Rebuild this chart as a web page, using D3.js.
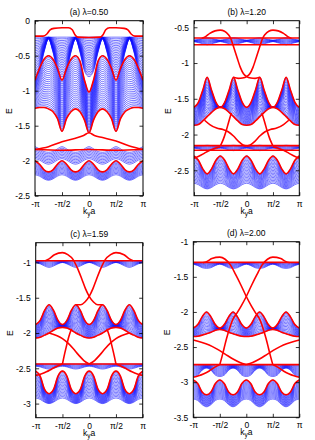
<!DOCTYPE html>
<html>
<head>
<meta charset="utf-8">
<script src="https://cdn.jsdelivr.net/npm/d3@7"></script>
<style>
  body { margin: 0; background: #fff; }
  text { font-family: "Liberation Sans", Arial, sans-serif; }
</style>
</head>
<body>
<div id="chart"></div>
<script>
// k in units of pi
var kGrid = [-1, -0.9167, -0.8333, -0.75, -0.6667, -0.5833, -0.5, -0.4167, -0.3333, -0.25, -0.1667, -0.0833,
  0, 0.0833, 0.1667, 0.25, 0.3333, 0.4167, 0.5, 0.5833, 0.6667, 0.75, 0.8333, 0.9167, 1];
var kTicks = [-1, -0.5, 0, 0.5, 1];
var kTickLabels = ["-\u03c0", "-\u03c0/2", "0", "\u03c0/2", "\u03c0"];

// ---- (a) lambda = 0.50 ----
var aB1Top = [-0.235,-0.235,-0.235,-0.235,-0.235,-0.235,-0.235,-0.235,-0.235,-0.235,-0.235,-0.235,-0.235,-0.235,-0.235,-0.235,-0.235,-0.235,-0.235,-0.235,-0.235,-0.235,-0.235,-0.235,-0.235];
var aB1Bot = [-0.80,-0.72,-0.45,-0.26,-0.45,-0.72,-0.80,-0.72,-0.45,-0.26,-0.45,-0.72,-0.80,-0.72,-0.45,-0.26,-0.45,-0.72,-0.80,-0.72,-0.45,-0.26,-0.45,-0.72,-0.80];
var aB2Top = [-0.85,-0.68,-0.55,-0.50,-0.55,-0.68,-0.85,-0.68,-0.55,-0.50,-0.58,-0.85,-1.02,-0.85,-0.58,-0.50,-0.55,-0.68,-0.85,-0.68,-0.55,-0.50,-0.55,-0.68,-0.85];
var aB2Bot = [-1.25,-1.24,-1.24,-1.26,-1.30,-1.40,-1.58,-1.40,-1.30,-1.26,-1.30,-1.42,-1.60,-1.42,-1.30,-1.26,-1.30,-1.40,-1.58,-1.40,-1.30,-1.26,-1.24,-1.24,-1.25];
var aB3Top = [-1.80,-1.83,-1.87,-1.88,-1.87,-1.83,-1.80,-1.83,-1.87,-1.88,-1.87,-1.83,-1.80,-1.83,-1.87,-1.88,-1.87,-1.83,-1.80,-1.83,-1.87,-1.88,-1.87,-1.83,-1.80];
var aB3Bot = [-1.97,-1.99,-2.03,-2.05,-2.03,-1.99,-1.97,-1.99,-2.03,-2.05,-2.03,-1.99,-1.97,-1.99,-2.03,-2.05,-2.03,-1.99,-1.97,-1.99,-2.03,-2.05,-2.03,-1.99,-1.97];
var aB4Top = [-2.00,-2.05,-2.13,-2.16,-2.13,-2.05,-2.00,-2.05,-2.13,-2.16,-2.13,-2.05,-2.00,-2.05,-2.13,-2.16,-2.13,-2.05,-2.00,-2.05,-2.13,-2.16,-2.13,-2.05,-2.00];
var aB4Bot = [-2.20,-2.22,-2.26,-2.28,-2.26,-2.22,-2.20,-2.22,-2.26,-2.28,-2.26,-2.22,-2.20,-2.22,-2.26,-2.28,-2.26,-2.22,-2.20,-2.22,-2.26,-2.28,-2.26,-2.22,-2.20];
var aEdgeTop = [[-1,-0.22],[-0.85,-0.22],[-0.78,-0.19],[-0.72,-0.13],[-0.65,-0.11],[-0.5,-0.1],[-0.38,-0.1],[-0.31,-0.13],[-0.26,-0.2],[-0.21,-0.235],[0,-0.24],
  [0.21,-0.235],[0.26,-0.2],[0.31,-0.13],[0.38,-0.1],[0.5,-0.1],[0.65,-0.11],[0.72,-0.13],[0.78,-0.19],[0.85,-0.22],[1,-0.22]];
var aEdgeHump = [[-1,-1.84],[-0.75,-1.8],[-0.5,-1.73],[-0.25,-1.68],[-0.1,-1.64],[0,-1.6],[0.1,-1.64],[0.25,-1.67],[0.5,-1.72],[0.75,-1.79],[1,-1.84]];
var aEdgeLow = [[-1,-1.84],[-0.5,-1.85],[0,-1.84],[0.5,-1.85],[1,-1.84]];

// ---- (b) lambda = 1.20 ----
var bB1Top = [-0.68,-0.67,-0.655,-0.645,-0.655,-0.67,-0.68,-0.67,-0.655,-0.645,-0.655,-0.67,-0.68,-0.67,-0.655,-0.645,-0.655,-0.67,-0.68,-0.67,-0.655,-0.645,-0.655,-0.67,-0.68];
var bB1Bot = [-0.70,-0.715,-0.73,-0.745,-0.73,-0.715,-0.70,-0.715,-0.73,-0.745,-0.73,-0.715,-0.70,-0.715,-0.73,-0.745,-0.73,-0.715,-0.70,-0.715,-0.73,-0.745,-0.73,-0.715,-0.70];
var bB2Top = [-1.62,-1.55,-1.38,-1.20,-1.38,-1.55,-1.62,-1.55,-1.38,-1.20,-1.38,-1.55,-1.62,-1.55,-1.38,-1.20,-1.38,-1.55,-1.62,-1.55,-1.38,-1.20,-1.38,-1.55,-1.62];
var bB2Bot = [-1.87,-1.86,-1.81,-1.75,-1.69,-1.64,-1.62,-1.64,-1.69,-1.75,-1.81,-1.86,-1.87,-1.86,-1.81,-1.75,-1.69,-1.64,-1.62,-1.64,-1.69,-1.75,-1.81,-1.86,-1.87];
var bB3Top = [-2.17,-2.165,-2.155,-2.15,-2.155,-2.165,-2.17,-2.165,-2.155,-2.15,-2.155,-2.165,-2.17,-2.165,-2.155,-2.15,-2.155,-2.165,-2.17,-2.165,-2.155,-2.15,-2.155,-2.165,-2.17];
var bB3Bot = [-2.19,-2.20,-2.215,-2.225,-2.215,-2.20,-2.19,-2.20,-2.215,-2.225,-2.215,-2.20,-2.19,-2.20,-2.215,-2.225,-2.215,-2.20,-2.19,-2.20,-2.215,-2.225,-2.215,-2.20,-2.19];
var bB4Top = [-2.30,-2.36,-2.48,-2.55,-2.48,-2.36,-2.30,-2.36,-2.48,-2.55,-2.48,-2.36,-2.30,-2.36,-2.48,-2.55,-2.48,-2.36,-2.30,-2.36,-2.48,-2.55,-2.48,-2.36,-2.30];
var bB4Bot = [-2.68,-2.70,-2.74,-2.76,-2.74,-2.70,-2.68,-2.70,-2.74,-2.76,-2.74,-2.70,-2.68,-2.70,-2.74,-2.76,-2.74,-2.70,-2.68,-2.70,-2.74,-2.76,-2.74,-2.70,-2.68];
var bEdgeFlat1 = [[-1,-0.65],[1,-0.65]];
var bEdgeFlat2 = [[-1,-0.745],[1,-0.745]];
var bEdgeFlat3 = [[-1,-2.155],[1,-2.155]];
var bEdgeFlat4 = [[-1,-2.22],[1,-2.22]];
var bArchL = [[-0.85,-0.655],[-0.78,-0.63],[-0.7,-0.585],[-0.6,-0.55],[-0.5,-0.54],[-0.42,-0.555],[-0.35,-0.6],[-0.3,-0.66],[-0.25,-0.77],[-0.18,-0.93],[-0.12,-1.06],[-0.06,-1.15],[0,-1.19],[0.08,-1.21],[0.16,-1.215],[0.25,-1.2]];
var bArchR = [[-0.25,-1.2],[-0.16,-1.215],[-0.08,-1.21],[0,-1.19],[0.06,-1.15],[0.12,-1.06],[0.18,-0.93],[0.25,-0.77],[0.3,-0.66],[0.35,-0.6],[0.42,-0.555],[0.5,-0.54],[0.6,-0.55],[0.7,-0.585],[0.78,-0.63],[0.85,-0.655]];
var bGapL = [[-0.8,-1.8],[-0.7,-1.86],[-0.57,-1.91],[-0.45,-1.93],[-0.35,-1.96],[-0.25,-2.02],[-0.15,-2.1],[-0.07,-2.145],[0,-2.16]];
var bGapR = [[0,-2.16],[0.07,-2.145],[0.15,-2.1],[0.25,-2.02],[0.35,-1.96],[0.45,-1.93],[0.57,-1.91],[0.7,-1.86],[0.8,-1.8]];
var bSteepL = [[-0.5,-2.16],[-0.44,-2.06],[-0.39,-1.95],[-0.34,-1.82],[-0.29,-1.7]];
var bSteepR = [[0.29,-1.7],[0.34,-1.82],[0.39,-1.95],[0.44,-2.06],[0.5,-2.16]];
var bLowL = [[-1,-2.33],[-0.9,-2.3],[-0.8,-2.26],[-0.7,-2.22],[-0.6,-2.19],[-0.5,-2.17]];
var bLowR = [[0.5,-2.17],[0.6,-2.19],[0.7,-2.22],[0.8,-2.26],[0.9,-2.3],[1,-2.33]];

// ---- (c) lambda = 1.59 ----
var cB1Top = [-0.985,-0.98,-0.975,-0.975,-0.975,-0.98,-0.985,-0.98,-0.975,-0.975,-0.975,-0.98,-0.985,-0.98,-0.975,-0.975,-0.975,-0.98,-0.985,-0.98,-0.975,-0.975,-0.975,-0.98,-0.985];
var cB1Bot = [-1.00,-1.02,-1.05,-1.07,-1.05,-1.02,-1.00,-1.02,-1.05,-1.07,-1.05,-1.02,-1.00,-1.02,-1.05,-1.07,-1.05,-1.02,-1.00,-1.02,-1.05,-1.07,-1.05,-1.02,-1.00];
var cB2Top = [-1.88,-1.82,-1.68,-1.60,-1.68,-1.82,-1.88,-1.82,-1.68,-1.60,-1.68,-1.82,-1.88,-1.82,-1.68,-1.60,-1.68,-1.82,-1.88,-1.82,-1.68,-1.60,-1.68,-1.82,-1.88];
var cB2Bot = [-2.07,-2.06,-2.03,-2.00,-1.96,-1.93,-1.92,-1.93,-1.96,-2.00,-2.03,-2.06,-2.07,-2.06,-2.03,-2.00,-1.96,-1.93,-1.92,-1.93,-1.96,-2.00,-2.03,-2.06,-2.07];
var cB3Top = [-2.44,-2.44,-2.44,-2.44,-2.44,-2.44,-2.44,-2.44,-2.44,-2.44,-2.44,-2.44,-2.44,-2.44,-2.44,-2.44,-2.44,-2.44,-2.44,-2.44,-2.44,-2.44,-2.44,-2.44,-2.44];
var cB3Bot = [-2.47,-2.48,-2.50,-2.51,-2.50,-2.48,-2.47,-2.48,-2.50,-2.51,-2.50,-2.48,-2.47,-2.48,-2.50,-2.51,-2.50,-2.48,-2.47,-2.48,-2.50,-2.51,-2.50,-2.48,-2.47];
var cB4Top = [-2.54,-2.61,-2.80,-2.86,-2.80,-2.61,-2.54,-2.61,-2.80,-2.86,-2.80,-2.61,-2.54,-2.61,-2.80,-2.86,-2.80,-2.61,-2.54,-2.61,-2.80,-2.86,-2.80,-2.61,-2.54];
var cB4Bot = [-2.92,-2.94,-2.98,-3.00,-2.98,-2.94,-2.92,-2.94,-2.98,-3.00,-2.98,-2.94,-2.92,-2.94,-2.98,-3.00,-2.98,-2.94,-2.92,-2.94,-2.98,-3.00,-2.98,-2.94,-2.92];
var cEdgeFlat1 = [[-1,-0.975],[1,-0.975]];
var cEdgeFlat2 = [[-1,-2.44],[1,-2.44]];
var cArchL = [[-0.82,-0.975],[-0.75,-0.95],[-0.65,-0.89],[-0.5,-0.86],[-0.4,-0.89],[-0.3,-0.96],[-0.22,-1.08],[-0.14,-1.23],[-0.07,-1.37],[0,-1.48],[0.08,-1.56],[0.16,-1.6],[0.25,-1.6]];
var cArchR = [[-0.25,-1.6],[-0.16,-1.6],[-0.08,-1.56],[0,-1.48],[0.07,-1.37],[0.14,-1.23],[0.22,-1.08],[0.3,-0.96],[0.4,-0.89],[0.5,-0.86],[0.65,-0.89],[0.75,-0.95],[0.82,-0.975]];
var cGapL = [[-0.75,-2.0],[-0.6,-2.04],[-0.5,-2.08],[-0.4,-2.14],[-0.3,-2.22],[-0.2,-2.31],[-0.1,-2.39],[0,-2.44]];
var cGapR = [[0,-2.44],[0.1,-2.39],[0.2,-2.31],[0.3,-2.22],[0.4,-2.14],[0.5,-2.08],[0.6,-2.04],[0.75,-2.0]];
var cSteepL = [[-0.5,-2.44],[-0.47,-2.33],[-0.43,-2.2],[-0.38,-2.05],[-0.33,-1.94]];
var cSteepR = [[0.33,-1.94],[0.38,-2.05],[0.43,-2.2],[0.47,-2.33],[0.5,-2.44]];
var cLowL = [[-1,-2.6],[-0.9,-2.58],[-0.8,-2.55],[-0.7,-2.51],[-0.6,-2.47],[-0.5,-2.44]];
var cLowR = [[0.5,-2.44],[0.6,-2.47],[0.7,-2.51],[0.8,-2.55],[0.9,-2.58],[1,-2.6]];

// ---- (d) lambda = 2.00 ----
var dB1Top = [-1.30,-1.30,-1.30,-1.30,-1.30,-1.30,-1.30,-1.30,-1.30,-1.30,-1.30,-1.30,-1.30,-1.30,-1.30,-1.30,-1.30,-1.30,-1.30,-1.30,-1.30,-1.30,-1.30,-1.30,-1.30];
var dB1Bot = [-1.32,-1.34,-1.37,-1.38,-1.37,-1.34,-1.32,-1.34,-1.37,-1.38,-1.37,-1.34,-1.32,-1.34,-1.37,-1.38,-1.37,-1.34,-1.32,-1.34,-1.37,-1.38,-1.37,-1.34,-1.32];
var dB2Top = [-2.23,-2.18,-2.07,-2.00,-2.07,-2.18,-2.23,-2.18,-2.07,-2.00,-2.07,-2.18,-2.23,-2.18,-2.07,-2.00,-2.07,-2.18,-2.23,-2.18,-2.07,-2.00,-2.07,-2.18,-2.23];
var dB2Bot = [-2.35,-2.345,-2.33,-2.31,-2.29,-2.26,-2.25,-2.26,-2.29,-2.31,-2.33,-2.345,-2.35,-2.345,-2.33,-2.31,-2.29,-2.26,-2.25,-2.26,-2.29,-2.31,-2.33,-2.345,-2.35];
var dB3Top = [-2.75,-2.75,-2.75,-2.75,-2.75,-2.75,-2.75,-2.75,-2.75,-2.75,-2.75,-2.75,-2.75,-2.75,-2.75,-2.75,-2.75,-2.75,-2.75,-2.75,-2.75,-2.75,-2.75,-2.75,-2.75];
var dB3Bot = [-2.92,-2.90,-2.83,-2.80,-2.83,-2.90,-2.92,-2.90,-2.83,-2.80,-2.83,-2.90,-2.92,-2.90,-2.83,-2.80,-2.83,-2.90,-2.92,-2.90,-2.83,-2.80,-2.83,-2.90,-2.92];
var dB4Top = [-2.97,-3.02,-3.14,-3.18,-3.14,-3.02,-2.97,-3.02,-3.14,-3.18,-3.14,-3.02,-2.97,-3.02,-3.14,-3.18,-3.14,-3.02,-2.97,-3.02,-3.14,-3.18,-3.14,-3.02,-2.97];
var dB4Bot = [-3.24,-3.26,-3.32,-3.35,-3.32,-3.26,-3.24,-3.26,-3.32,-3.35,-3.32,-3.26,-3.24,-3.26,-3.32,-3.35,-3.32,-3.26,-3.24,-3.26,-3.32,-3.35,-3.32,-3.26,-3.24];
var dEdgeFlat1 = [[-1,-1.295],[1,-1.295]];
var dEdgeFlat2 = [[-1,-2.75],[1,-2.75]];
var dArchL = [[-0.82,-1.3],[-0.74,-1.28],[-0.65,-1.24],[-0.5,-1.22],[-0.4,-1.25],[-0.3,-1.33],[-0.2,-1.47],[-0.1,-1.62],[0,-1.78],[0.1,-1.92],[0.18,-2.02],[0.25,-2.1],[0.31,-2.22],[0.37,-2.37],[0.42,-2.52],[0.46,-2.64],[0.5,-2.75]];
var dArchR = [[-0.5,-2.75],[-0.46,-2.64],[-0.42,-2.52],[-0.37,-2.37],[-0.31,-2.22],[-0.25,-2.1],[-0.18,-2.02],[-0.1,-1.92],[0,-1.78],[0.1,-1.62],[0.2,-1.47],[0.3,-1.33],[0.4,-1.25],[0.5,-1.22],[0.65,-1.24],[0.74,-1.28],[0.82,-1.3]];
var dGapL = [[-1,-2.4],[-0.85,-2.43],[-0.7,-2.47],[-0.55,-2.53],[-0.4,-2.6],[-0.25,-2.67],[-0.12,-2.72],[0,-2.75]];
var dGapR = [[0,-2.75],[0.12,-2.72],[0.25,-2.67],[0.4,-2.6],[0.55,-2.53],[0.7,-2.47],[0.85,-2.43],[1,-2.4]];
var dLowL = [[-1,-2.93],[-0.9,-2.91],[-0.8,-2.88],[-0.7,-2.84],[-0.6,-2.79],[-0.5,-2.75]];
var dLowR = [[0.5,-2.75],[0.6,-2.79],[0.7,-2.84],[0.8,-2.88],[0.9,-2.91],[1,-2.93]];

var panels = [
  { id: "a", title: "(a) \u03bb=0.50", x0: 35, x1: 143, y0: 20.7, y1: 195.7, eDomain: [-2.5, 0],
    eTicks: [0, -0.5, -1, -1.5, -2, -2.5], eLabels: ["0", "-0.5", "-1", "-1.5", "-2", "-2.5"],
    bands: [[aB1Top, aB1Bot, 24], [aB2Top, aB2Bot, 28], [aB3Top, aB3Bot, 9], [aB4Top, aB4Bot, 12]],
    redGrid: [aB2Top, aB2Bot, aB4Top],
    redPts: [aEdgeTop, aEdgeHump, aEdgeLow] },
  { id: "b", title: "(b) \u03bb=1.20", x0: 194, x1: 299.3, y0: 20.7, y1: 195.7, eDomain: [-2.855, -0.408],
    eTicks: [-0.5, -1, -1.5, -2, -2.5], eLabels: ["-0.5", "-1", "-1.5", "-2", "-2.5"],
    bands: [[bB1Top, bB1Bot, 8], [bB2Top, bB2Bot, 26], [bB3Top, bB3Bot, 6], [bB4Top, bB4Bot, 20]],
    redGrid: [bB2Top, bB2Bot, bB4Top],
    redPts: [bEdgeFlat1, bEdgeFlat2, bEdgeFlat3, bEdgeFlat4, bArchL, bArchR, bGapL, bGapR, bSteepL, bSteepR, bLowL, bLowR] },
  { id: "c", title: "(c) \u03bb=1.59", x0: 35.7, x1: 142.7, y0: 242.7, y1: 417.7, eDomain: [-3.2, -0.72],
    eTicks: [-1, -1.5, -2, -2.5, -3], eLabels: ["-1", "-1.5", "-2", "-2.5", "-3"],
    bands: [[cB1Top, cB1Bot, 7], [cB2Top, cB2Bot, 22], [cB3Top, cB3Bot, 6], [cB4Top, cB4Bot, 20]],
    redGrid: [cB2Top, cB2Bot, cB4Top],
    redPts: [cEdgeFlat1, cEdgeFlat2, cArchL, cArchR, cGapL, cGapR, cSteepL, cSteepR, cLowL, cLowR] },
  { id: "d", title: "(d) \u03bb=2.00", x0: 193.3, x1: 299.3, y0: 241.7, y1: 417.3, eDomain: [-3.5, -1],
    eTicks: [-1, -1.5, -2, -2.5, -3, -3.5], eLabels: ["-1", "-1.5", "-2", "-2.5", "-3", "-3.5"],
    bands: [[dB1Top, dB1Bot, 7], [dB2Top, dB2Bot, 16], [dB3Top, dB3Bot, 12], [dB4Top, dB4Bot, 18]],
    redGrid: [dB2Top, dB2Bot, dB4Top],
    redPts: [dEdgeFlat1, dEdgeFlat2, dArchL, dArchR, dGapL, dGapR, dLowL, dLowR] }
];

var svg = d3.select("#chart").append("svg")
  .attr("width", 315)
  .attr("height", 440);

function drawPanel(p) {
  var x = d3.scaleLinear().domain([-1, 1]).range([p.x0, p.x1]);
  var y = d3.scaleLinear().domain(p.eDomain).range([p.y1, p.y0]);
  var line = d3.line()
    .x(function(d) { return x(d[0]); })
    .y(function(d) { return y(d[1]); })
    .curve(d3.curveMonotoneX);

  svg.append("clipPath").attr("id", "clip-" + p.id)
    .append("rect")
    .attr("x", p.x0).attr("y", p.y0)
    .attr("width", p.x1 - p.x0).attr("height", p.y1 - p.y0);

  var plot = svg.append("g").attr("clip-path", "url(#clip-" + p.id + ")");

  // bulk bands: a fan of thin blue lines between the band edges
  p.bands.forEach(function(b) {
    var mix = d3.interpolate(b[0], b[1]);
    for (var j = 0; j < b[2]; j++) {
      var vals = mix(j / (b[2] - 1));
      plot.append("path")
        .attr("d", line(kGrid.map(function(k, i) { return [k, vals[i]]; })))
        .attr("fill", "none")
        .attr("stroke", "#1414ff")
        .attr("stroke-width", 0.6);
    }
  });

  // edge states
  p.redGrid.forEach(function(arr) {
    plot.append("path")
      .attr("d", line(kGrid.map(function(k, i) { return [k, arr[i]]; })))
      .attr("fill", "none")
      .attr("stroke", "#ff0000")
      .attr("stroke-width", 1.6);
  });
  p.redPts.forEach(function(pts) {
    plot.append("path")
      .attr("d", line(pts))
      .attr("fill", "none")
      .attr("stroke", "#ff0000")
      .attr("stroke-width", 1.6);
  });

  // axes with inward ticks on all sides
  var tick = 3.5;
  svg.append("g")
    .attr("transform", "translate(" + p.x0 + ",0)")
    .call(d3.axisLeft(y).tickValues(p.eTicks).tickSize(-tick).tickPadding(5)
      .tickFormat(function(d, i) { return p.eLabels[i]; }))
    .call(styleAxis);
  svg.append("g")
    .attr("transform", "translate(" + p.x1 + ",0)")
    .call(d3.axisRight(y).tickValues(p.eTicks).tickSize(-tick).tickFormat(""))
    .call(styleAxis);
  svg.append("g")
    .attr("transform", "translate(0," + p.y1 + ")")
    .call(d3.axisBottom(x).tickValues(kTicks).tickSize(-tick).tickPadding(5)
      .tickFormat(function(d, i) { return kTickLabels[i]; }))
    .call(styleAxis);
  svg.append("g")
    .attr("transform", "translate(0," + p.y0 + ")")
    .call(d3.axisTop(x).tickValues(kTicks).tickSize(-tick).tickFormat(""))
    .call(styleAxis);

  svg.append("rect")
    .attr("x", p.x0).attr("y", p.y0)
    .attr("width", p.x1 - p.x0).attr("height", p.y1 - p.y0)
    .attr("fill", "none")
    .attr("stroke", "#000")
    .attr("stroke-width", 1);

  svg.append("text")
    .attr("x", (p.x0 + p.x1) / 2)
    .attr("y", p.y0 - 6)
    .attr("text-anchor", "middle")
    .attr("font-size", "8.5px")
    .text(p.title);

  var xl = svg.append("text")
    .attr("x", (p.x0 + p.x1) / 2)
    .attr("y", p.y1 + 18)
    .attr("text-anchor", "middle")
    .attr("font-size", "8.5px");
  xl.append("tspan").text("k");
  xl.append("tspan").attr("font-size", "6.5px").attr("dy", 2).text("y");
  xl.append("tspan").attr("dy", -2).text("a");

  svg.append("text")
    .attr("transform", "translate(" + (p.x0 - 23) + "," + ((p.y0 + p.y1) / 2 + 3) + ") rotate(-90)")
    .attr("text-anchor", "middle")
    .attr("font-size", "8.5px")
    .text("E");
}

function styleAxis(g) {
  g.select(".domain").remove();
  g.selectAll(".tick line").attr("stroke", "#000").attr("stroke-width", 0.8);
  g.selectAll(".tick text")
    .attr("font-size", "8.5px")
    .attr("font-family", "Liberation Sans, Arial, sans-serif")
    .attr("fill", "#000");
}

panels.forEach(drawPanel);
</script>
</body>
</html>
